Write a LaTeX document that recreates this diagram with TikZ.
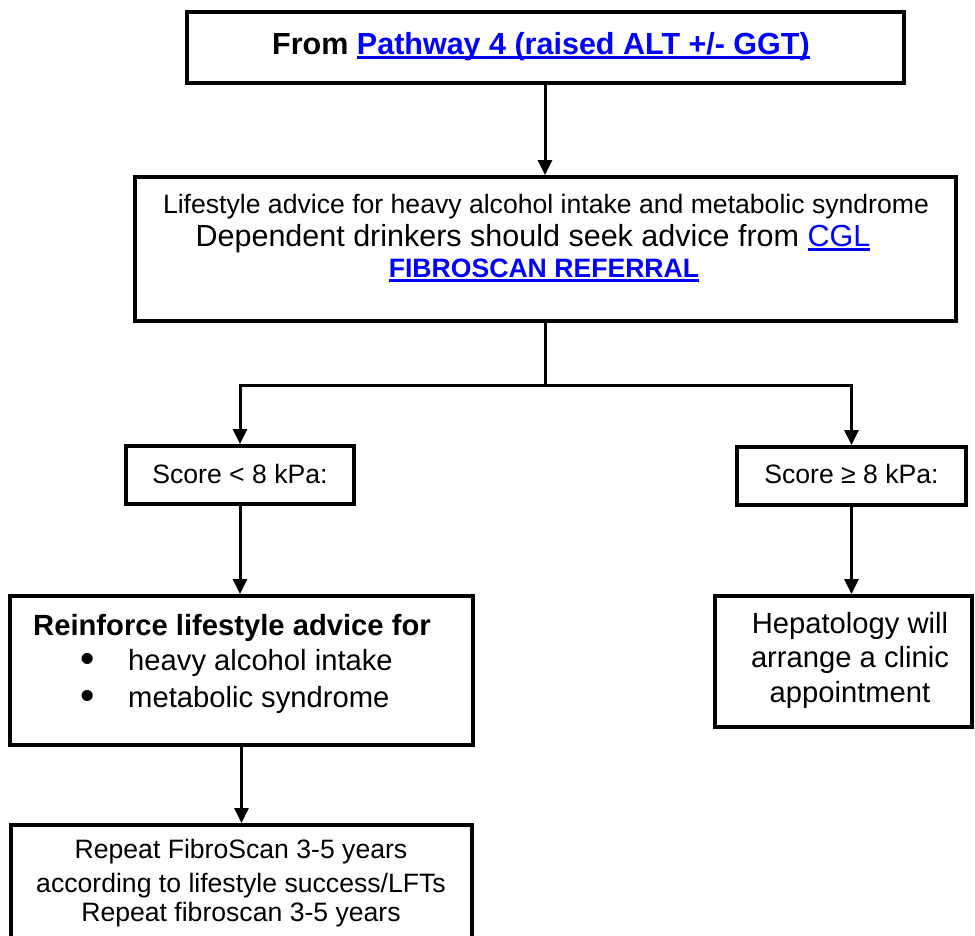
\documentclass[tikz,border=0pt]{standalone}
\usepackage{fontspec}
\setmainfont{Liberation Sans}
\usetikzlibrary{arrows.meta}
\definecolor{linkblue}{RGB}{0,0,255}
\newcommand{\lnk}[1]{\textcolor{linkblue}{\setbox0\hbox{#1}\rlap{\rule[-4.5pt]{\wd0}{2.5pt}}\box0}}
\newcommand{\blt}{\makebox[48pt][l]{\raisebox{-2pt}{\scalebox{1.4}{•}}}}

\begin{document}
\begin{tikzpicture}[x=1pt, y=-1pt,
                    box/.style={draw, line width=4pt, inner sep=0pt},
                    link/.style={line width=3pt},
                    arrow/.style={line width=3pt, -{Triangle[length=15pt, width=14pt]}},
                    twelve/.style={anchor=base, inner sep=0pt, font=\fontsize{26.6}{30}\selectfont},
                    thirteen/.style={anchor=base, inner sep=0pt, font=\fontsize{29.2}{33}\selectfont},
                    fourteen/.style={anchor=base, inner sep=0pt, font=\fontsize{30.5}{35}\selectfont}
                    ]
    \clip (0,0) rectangle (975,935);
    \fill[white] (0,0) rectangle (975,935);

    % boxes
    \node[box, minimum width=717pt, minimum height=71pt]  (top)   at (545,47)    {};
    \node[box, minimum width=821pt, minimum height=144pt] (fib)   at (545,249)   {};
    \node[box, minimum width=228pt, minimum height=58pt]  (lo)    at (240,475)   {};
    \node[box, minimum width=229pt, minimum height=58pt]  (hi)    at (851.5,476) {};
    \node[box, minimum width=463pt, minimum height=149pt] (reinf) at (241.5,670.5) {};
    \node[box, minimum width=257pt, minimum height=131pt] (hep)   at (843.5,661.5) {};
    \node[box, minimum width=461pt, minimum height=135pt] (rep)   at (241.5,892.5) {};

    % texts
    \node[fourteen] (topA) at (541,54) {\bfseries From \lnk{Pathway 4 (raised ALT +/- GGT)}};

    \node[twelve]   (fibA) at (546,213) {Lifestyle advice for heavy alcohol intake and metabolic syndrome};
    \node[fourteen] (fibB) at (533,246) {Dependent drinkers should seek advice from \lnk{CGL}};
    \node[twelve]   (fibC) at (544,277) {\bfseries\lnk{FIBROSCAN REFERRAL}};

    \node[twelve] (loA) at (240,483)   {Score < 8 kPa:};
    \node[twelve] (hiA) at (851.5,483) {Score ≥ 8 kPa:};

    \node[thirteen, anchor=base west] (reinfA) at (33,635) {\bfseries Reinforce lifestyle advice for};
    \node[thirteen, anchor=base west] (reinfB) at (80,670) {\blt heavy alcohol intake};
    \node[thirteen, anchor=base west] (reinfC) at (80,707) {\blt metabolic syndrome};

    \node[thirteen] (hepA) at (850,633) {Hepatology will};
    \node[thirteen] (hepB) at (850,667) {arrange a clinic};
    \node[thirteen] (hepC) at (850,702) {appointment};

    \node[twelve] (repA) at (241,858) {Repeat FibroScan 3-5 years};
    \node[twelve] (repB) at (241,892) {according to lifestyle success/LFTs};
    \node[twelve] (repC) at (241,921) {Repeat fibroscan 3-5 years};

    % connectors
    \path (fib.south) ++(0,62) coordinate (fork);
    \draw[arrow] (top.south) -- (top.south |- fib.north);
    \draw[link] (fib.south) -- (fork);
    \draw[arrow] (fork) -| (lo.north);
    \draw[arrow] (fork) -| (hi.north);
    \draw[arrow] (lo.south) -- (lo.south |- reinf.north);
    \draw[arrow] (hi.south) -- (hi.south |- hep.north);
    \draw[arrow] (reinf.south) -- (reinf.south |- rep.north);
\end{tikzpicture}
\end{document}
